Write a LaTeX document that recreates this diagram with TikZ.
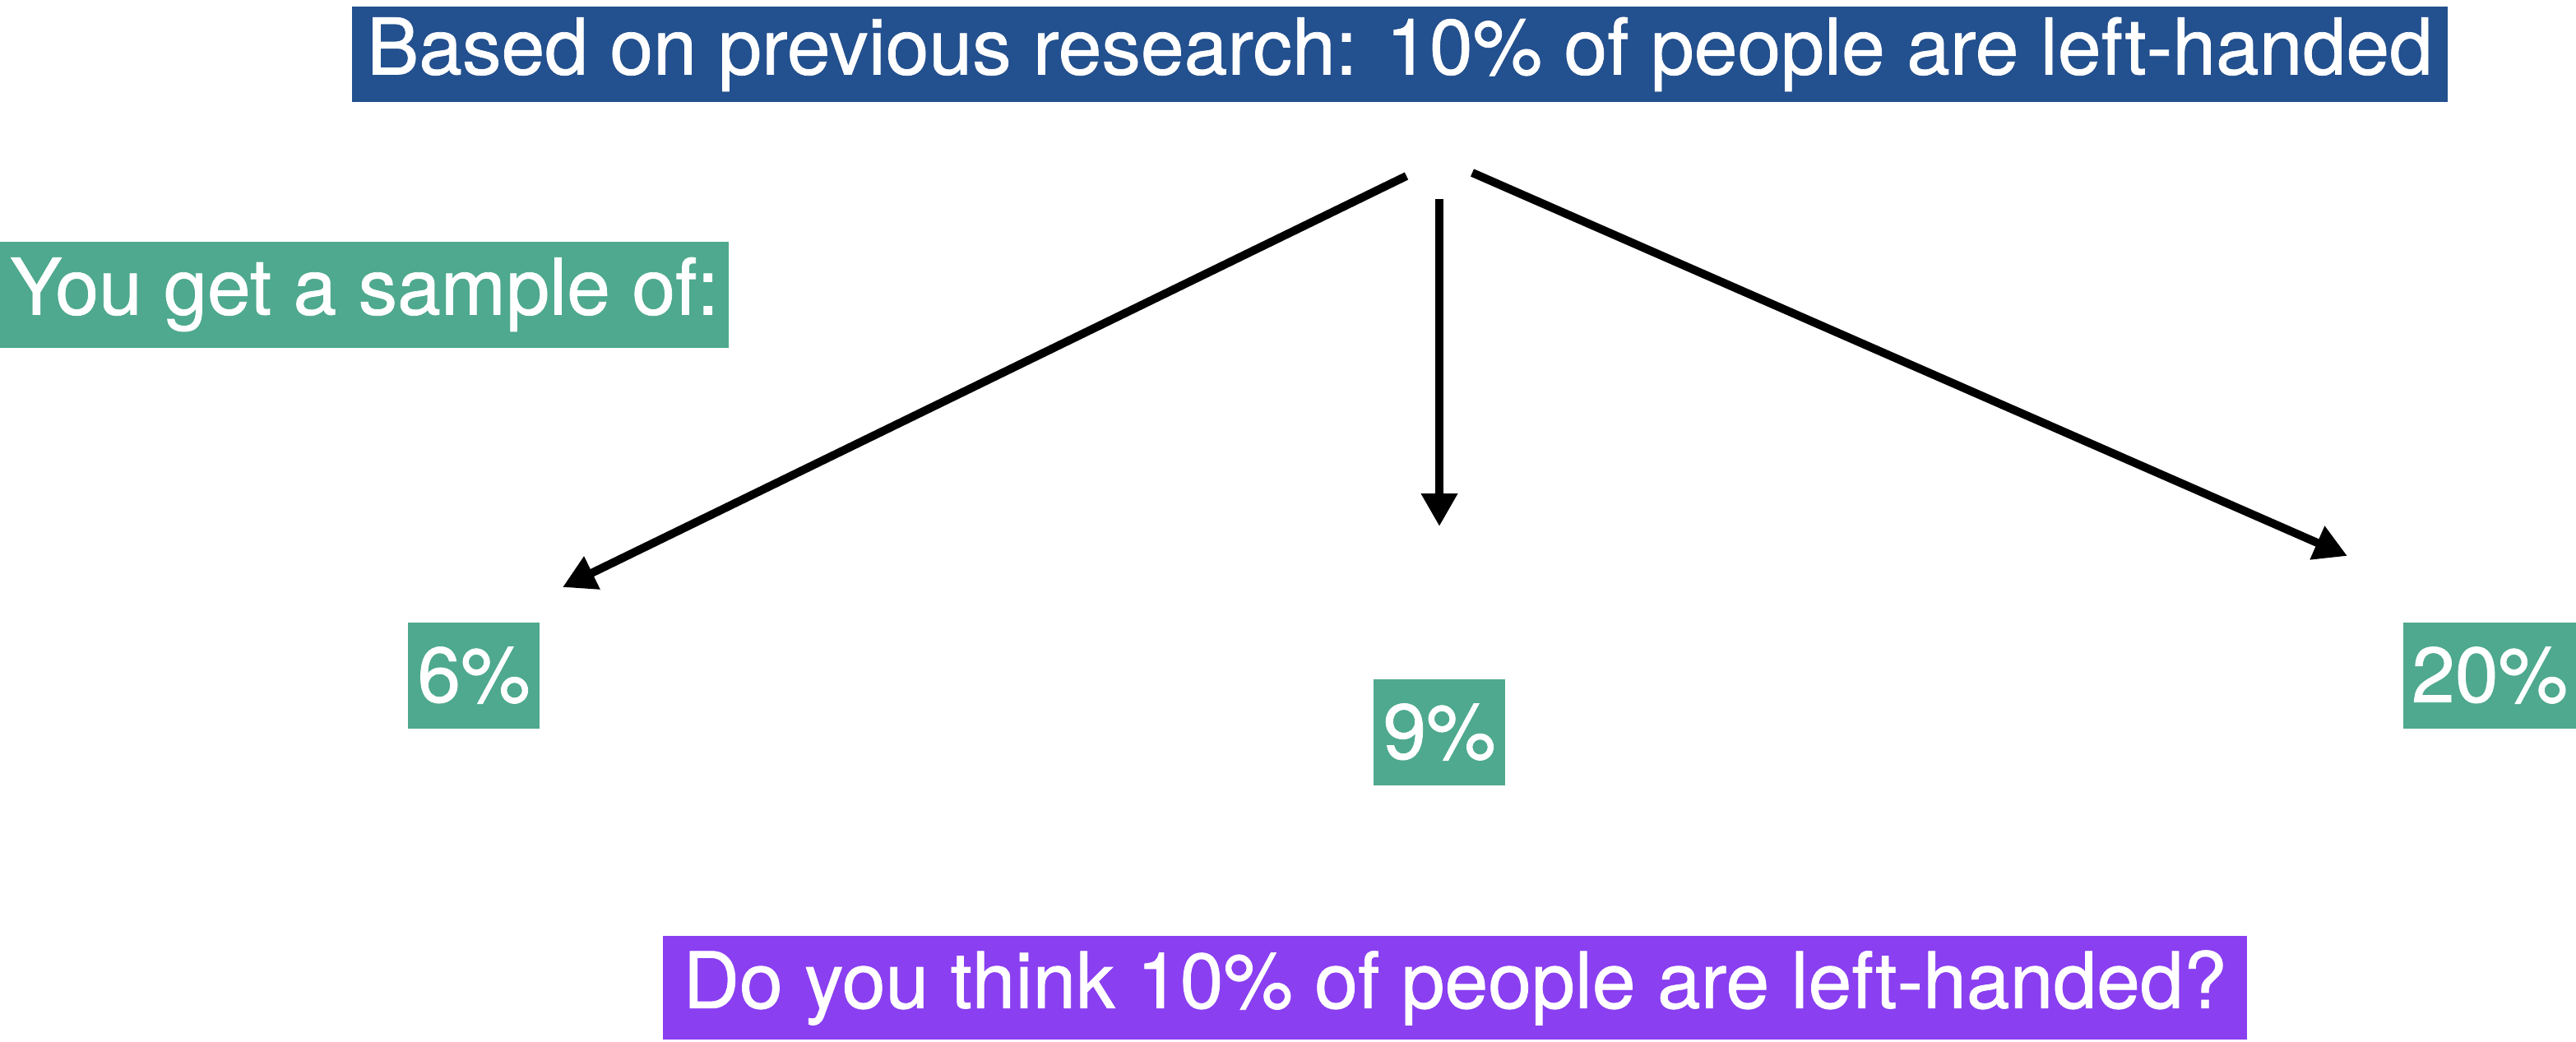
\documentclass[tikz,border=0pt]{standalone}
\usepackage{fontspec}
\setmainfont[FakeBold=0.8]{TeX Gyre Heros}
\usepackage{xcolor}
\usepackage{tikz}
\usetikzlibrary{arrows.meta, positioning, calc}
\definecolor{priorblue}{HTML}{23508E}
\definecolor{samplegreen}{HTML}{4EA98E}
\definecolor{askpurple}{HTML}{8A3FF0}
\tikzstyle{banner} = [fill=priorblue, text=white, inner sep=0pt, minimum width=25.48cm, minimum height=1.16cm]
\tikzstyle{tag} = [fill=samplegreen, text=white, inner sep=0pt, minimum height=1.29cm]
\tikzstyle{question} = [fill=askpurple, text=white, inner sep=0pt, minimum width=19.26cm, minimum height=1.26cm]
\tikzstyle{arrow} = [line width=1mm, -{Triangle[length=4mm, width=4.2mm]}, color=black]

\begin{document}
\begin{tikzpicture}[every node/.style={font=\fontsize{27}{30}\selectfont}]
    \useasboundingbox (0,0) rectangle (31.32,-12.66);
    \node[banner] (prior) at (17.02,-0.66) {Based on previous research: 10\% of people are left-handed};
    \node[tag, minimum width=8.86cm] (sample) at (4.43,-3.58) {You get a sample of:};

    \node[tag, minimum width=1.6cm] (low) at (5.76,-8.21) {6\%};
    \node[tag, minimum width=1.6cm] (near) at (17.5,-8.9) {9\%};
    \node[tag, minimum width=2.1cm] (high) at (30.27,-8.21) {20\%};
    \node[question] (ask) at (17.69,-12.01) {Do you think 10\% of people are left-handed?};

    % arrows start just under the banner and stop short of the values
    \coordinate (fromleft) at (17.1,-2.14);
    \coordinate (frommid) at (17.5,-2.42);
    \coordinate (fromright) at (17.9,-2.1);
    \coordinate (toleft) at (6.84,-7.14);
    \coordinate (tomid) at (17.5,-6.4);
    \coordinate (toright) at (28.54,-6.76);
    \draw[arrow] (fromleft) -- (toleft);
    \draw[arrow] (frommid) -- (tomid);
    \draw[arrow] (fromright) -- (toright);
\end{tikzpicture}
\end{document}
